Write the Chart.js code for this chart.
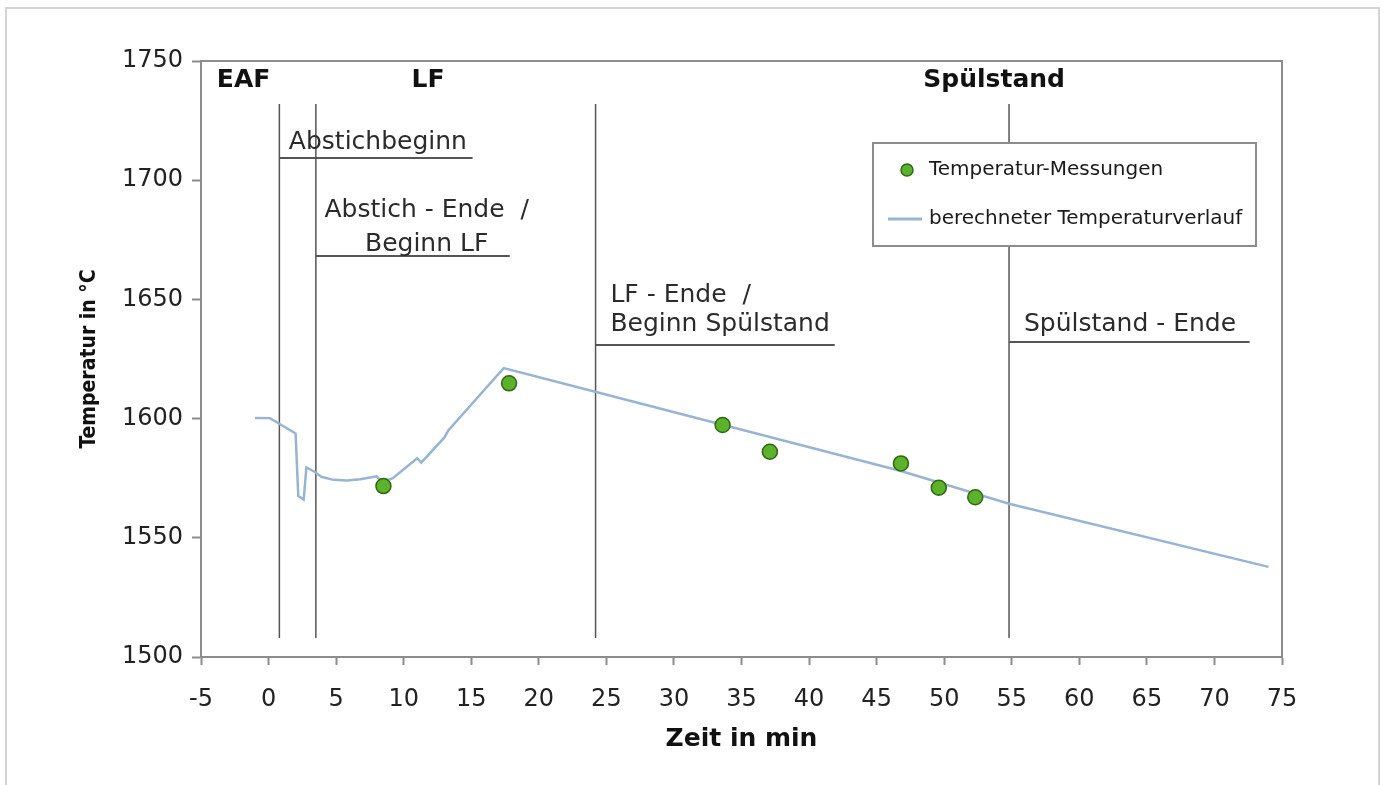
<!DOCTYPE html>
<html>
<head>
<meta charset="utf-8">
<script src="https://cdn.jsdelivr.net/npm/chart.js@4/dist/chart.umd.min.js"></script>
<style>
    html, body { margin: 0; padding: 0; background: #fff; overflow: hidden; }
    #frame {
        position: absolute; left: 5px; top: 7px; width: 1375px; height: 800px;
        border: 2px solid #d4d4d4; box-sizing: border-box;
    }
    #wrap { position: absolute; left: 0; top: 0; width: 1385px; height: 785px; }
</style>
</head>
<body>
<div id="frame"></div>
<div id="wrap"><canvas id="tempChart"></canvas></div>

<script>
/* ===============================
   DATA
================================ */
// berechneter Temperaturverlauf (min, °C)
const curveTime = [-1.0, 0.1, 2.0, 2.2, 2.6, 2.8, 3.4, 3.9, 4.8, 5.8, 6.8, 8.0, 8.4,
                   9.2, 11.0, 11.3, 13.0, 13.3, 17.4, 24.6, 33.6, 46.8, 54.8, 74.0];
const curveTemp = [1600.3, 1600.2, 1593.8, 1567.5, 1566.0, 1579.5, 1577.7, 1575.6, 1574.3, 1574.0, 1574.6, 1575.8, 1573.5,
                   1575.0, 1583.4, 1581.5, 1592.0, 1595.0, 1621.2, 1610.6, 1597.4, 1578.0, 1564.3, 1537.8];

// Temperatur-Messungen
const measTime = [8.5, 17.8, 33.6, 37.1, 46.8, 49.6, 52.3];
const measTemp = [1571.7, 1614.8, 1597.3, 1586.1, 1581.2, 1571.0, 1567.0];

// Prozessphasen
const phaseTimes = [0.8, 3.5, 24.2, 54.8];
const phaseLineRange = [1508, 1732];

const xTicks = [-5, 0, 5, 10, 15, 20, 25, 30, 35, 40, 45, 50, 55, 60, 65, 70, 75];
const yTicks = [1500, 1550, 1600, 1650, 1700, 1750];

const stageLabels = ['EAF', 'LF', 'Spülstand'];
const eventLabels = [
    ['Abstichbeginn'],
    ['Abstich - Ende  /', 'Beginn LF'],
    ['LF - Ende  /', 'Beginn Spülstand'],
    ['Spülstand - Ende']
];
const seriesNames = ['Temperatur-Messungen', 'berechneter Temperaturverlauf'];

/* ===============================
   LAYOUT OF NOTES (data coords)
================================ */
const stagePos = [[-1.85, 1742], [11.8, 1742], [53.7, 1742]];
const eventText = [
    { x: 1.5, y: [1716], align: 'left' },
    { x: 11.7, y: [1687.5, 1673.2], align: 'center' },
    { x: 25.3, y: [1651.8, 1639.3], align: 'left' },
    { x: 55.9, y: [1639.3], align: 'left' }
];
const eventRule = [[0.8, 15.1, 1709.3], [3.5, 17.85, 1668.2], [24.2, 41.9, 1630.9], [54.8, 72.6, 1632.1]];

const FONT = 'DejaVu Sans';

/* ===============================
   DECOR PLUGIN
================================ */
const decor = {
    id: 'decor',
    beforeDatasetsDraw(chart) {
        const { ctx, chartArea: a, scales: { x, y } } = chart;
        ctx.save();

        // plot frame (top + right)
        ctx.strokeStyle = '#8c8c8c';
        ctx.lineWidth = 2;
        ctx.beginPath();
        ctx.moveTo(a.left, a.top);
        ctx.lineTo(a.right, a.top);
        ctx.lineTo(a.right, a.bottom);
        ctx.stroke();

        // phase lines
        ctx.strokeStyle = '#555';
        ctx.lineWidth = 1.5;
        phaseTimes.forEach(t => {
            const px = x.getPixelForValue(t);
            ctx.beginPath();
            ctx.moveTo(px, y.getPixelForValue(phaseLineRange[1]));
            ctx.lineTo(px, y.getPixelForValue(phaseLineRange[0]));
            ctx.stroke();
        });

        // underlines
        ctx.lineWidth = 2;
        eventRule.forEach(([x1, x2, v]) => {
            const py = y.getPixelForValue(v);
            ctx.beginPath();
            ctx.moveTo(x.getPixelForValue(x1), py);
            ctx.lineTo(x.getPixelForValue(x2), py);
            ctx.stroke();
        });

        // event texts
        ctx.fillStyle = '#2b2b2b';
        ctx.font = `25px "${FONT}"`;
        ctx.textBaseline = 'middle';
        eventLabels.forEach((lines, i) => {
            const p = eventText[i];
            ctx.textAlign = p.align;
            lines.forEach((txt, j) => {
                ctx.fillText(txt, x.getPixelForValue(p.x), y.getPixelForValue(p.y[j]));
            });
        });

        // stage titles
        ctx.fillStyle = '#111';
        ctx.font = `bold 25px "${FONT}"`;
        ctx.textAlign = 'center';
        stageLabels.forEach((txt, i) => {
            ctx.fillText(txt, x.getPixelForValue(stagePos[i][0]), y.getPixelForValue(stagePos[i][1]));
        });

        ctx.restore();
    },

    afterDraw(chart) {
        const { ctx } = chart;
        const meas = chart.data.datasets[0];
        const curve = chart.data.datasets[1];
        ctx.save();

        // legend box
        ctx.fillStyle = '#fff';
        ctx.strokeStyle = '#8c8c8c';
        ctx.lineWidth = 2;
        ctx.fillRect(873, 143, 383, 103);
        ctx.strokeRect(873, 143, 383, 103);

        ctx.beginPath();
        ctx.arc(907, 170, 6, 0, Math.PI * 2);
        ctx.fillStyle = meas.backgroundColor;
        ctx.fill();
        ctx.lineWidth = 1.5;
        ctx.strokeStyle = meas.borderColor;
        ctx.stroke();

        ctx.beginPath();
        ctx.moveTo(888, 219);
        ctx.lineTo(922, 219);
        ctx.strokeStyle = curve.borderColor;
        ctx.lineWidth = 3;
        ctx.stroke();

        ctx.fillStyle = '#1a1a1a';
        ctx.font = `20px "${FONT}"`;
        ctx.textAlign = 'left';
        ctx.textBaseline = 'middle';
        ctx.fillText(seriesNames[0], 929, 170);
        ctx.fillText(seriesNames[1], 929, 219);

        ctx.restore();
    }
};

/* ===============================
   CHART
================================ */
const axisGray = '#8c8c8c';

new Chart(document.getElementById('tempChart'), {
    type: 'scatter',
    data: {
        datasets: [
            {
                label: seriesNames[0],
                data: measTime.map((t, i) => ({ x: t, y: measTemp[i] })),
                backgroundColor: '#5cb22b',
                borderColor: '#2f6614',
                borderWidth: 1.5,
                pointRadius: 7.5,
                showLine: false
            },
            {
                label: seriesNames[1],
                data: curveTime.map((t, i) => ({ x: t, y: curveTemp[i] })),
                borderColor: '#97b5d3',
                borderWidth: 2.5,
                pointRadius: 0,
                showLine: true,
                tension: 0
            }
        ]
    },
    options: {
        responsive: true,
        maintainAspectRatio: false,
        animation: false,
        layout: { padding: { top: 61, right: 103, left: 0, bottom: 0 } },
        plugins: { legend: { display: false }, tooltip: { enabled: false } },
        scales: {
            x: {
                type: 'linear',
                min: -5,
                max: 75,
                afterBuildTicks: s => { s.ticks = xTicks.map(v => ({ value: v })); },
                afterFit: s => { s.height = 128; },
                ticks: {
                    color: '#222',
                    font: { family: FONT, size: 24 },
                    padding: 20,
                    maxRotation: 0,
                    autoSkip: false,
                    callback: v => String(v)
                },
                grid: { drawOnChartArea: false, tickLength: 8, color: axisGray, tickWidth: 2 },
                border: { color: axisGray, width: 2 },
                title: {
                    display: true,
                    text: 'Zeit in min',
                    color: '#111',
                    font: { family: FONT, size: 25, weight: 'bold' },
                    padding: { top: 0, bottom: 31 }
                }
            },
            y: {
                min: 1500,
                max: 1750,
                afterBuildTicks: s => { s.ticks = yTicks.map(v => ({ value: v })); },
                afterFit: s => { s.width = 201; },
                ticks: {
                    color: '#222',
                    font: { family: FONT, size: 24 },
                    padding: 9,
                    callback: v => String(v)
                },
                grid: { drawOnChartArea: false, tickLength: 9, color: axisGray, tickWidth: 2 },
                border: { color: axisGray, width: 2 },
                title: {
                    display: true,
                    text: 'Temperatur in °C',
                    color: '#111',
                    font: { family: 'DejaVu Sans Condensed', size: 21, weight: 'bold' },
                    padding: { top: 77, bottom: 0 }
                }
            }
        }
    },
    plugins: [decor]
});
</script>
</body>
</html>
